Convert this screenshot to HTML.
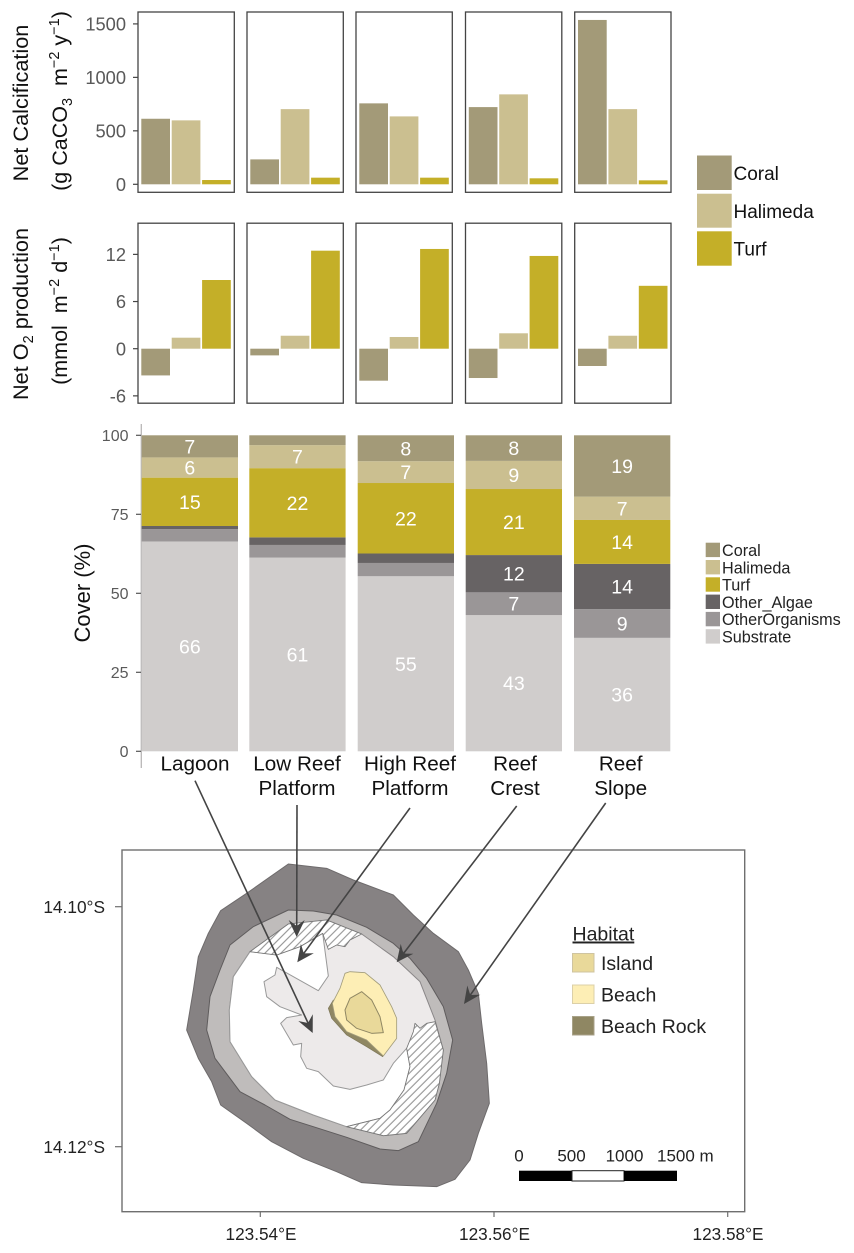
<!DOCTYPE html>
<html>
<head>
<meta charset="utf-8">
<title>Reef habitat calcification, oxygen production, cover and map</title>
<style>
html,body{margin:0;padding:0;background:#fff;}
svg{display:block;font-family:"Liberation Sans",Arial,sans-serif;}
</style>
</head>
<body>
<svg id="fig" width="854" height="1253" viewBox="0 0 854 1253" xmlns="http://www.w3.org/2000/svg">
  <defs>
    <pattern id="hatch" patternUnits="userSpaceOnUse" width="17" height="17" patternTransform="rotate(-45)">
      <rect width="17" height="17" fill="#fff"/>
      <line x1="0" y1="8" x2="17" y2="8" stroke="#8b8b8b" stroke-width="3"/>
    </pattern>
  </defs>
  <rect width="854" height="1253" fill="#fff"/>

  <g id="calc"></g>
  <g id="o2"></g>
  <g id="cover"></g>

  <text transform="translate(28,103) rotate(-90)" text-anchor="middle" font-size="21.7" fill="#111">Net Calcification</text>
  <text transform="translate(67,101) rotate(-90)" text-anchor="middle" font-size="21.5" fill="#111" xml:space="preserve">(g CaCO<tspan font-size="14.5" dy="5">3</tspan><tspan dy="-5">  m</tspan><tspan font-size="14.5" dy="-8">−2</tspan><tspan dy="8"> y</tspan><tspan font-size="14.5" dy="-8">−1</tspan><tspan dy="8">)</tspan></text>
  <text transform="translate(28,314) rotate(-90)" text-anchor="middle" font-size="21.7" fill="#111">Net O<tspan font-size="14.5" dy="5">2</tspan><tspan dy="-5"> production</tspan></text>
  <text transform="translate(67,311) rotate(-90)" text-anchor="middle" font-size="21.5" fill="#111" xml:space="preserve">(mmol  m<tspan font-size="14.5" dy="-8">−2</tspan><tspan dy="8"> d</tspan><tspan font-size="14.5" dy="-8">−1</tspan><tspan dy="8">)</tspan></text>
  <text transform="translate(90,593) rotate(-90)" text-anchor="middle" font-size="22" fill="#111">Cover (%)</text>

  <g>
    <rect x="697" y="155.5" width="34.7" height="34.5" fill="#a39a78"/>
    <rect x="697" y="193.7" width="34.7" height="34" fill="#cbbf90"/>
    <rect x="697" y="231.3" width="34.7" height="34.4" fill="#c4af28"/>
    <text x="733.5" y="180" font-size="19" fill="#111">Coral</text>
    <text x="733.5" y="218" font-size="19" fill="#111">Halimeda</text>
    <text x="733.5" y="255.5" font-size="19" fill="#111">Turf</text>
  </g>

  <g id="coverLegend"></g>

  <g>
    <rect x="122" y="850" width="622.7" height="361.7" fill="#fff" stroke="#6f6f6f" stroke-width="1.4"/>
    <g stroke="#6f6f6f" stroke-width="1.2">
      <line x1="115" y1="906.7" x2="122" y2="906.7"/>
      <line x1="115" y1="1146.7" x2="122" y2="1146.7"/>
      <line x1="260.3" y1="1211.7" x2="260.3" y2="1217"/>
      <line x1="494" y1="1211.7" x2="494" y2="1217"/>
      <line x1="727.7" y1="1211.7" x2="727.7" y2="1217"/>
    </g>
    <text x="105" y="913" text-anchor="end" font-size="17.3" fill="#222">14.10°S</text>
    <text x="105" y="1153" text-anchor="end" font-size="17.3" fill="#222">14.12°S</text>
    <text x="261" y="1240" text-anchor="middle" font-size="17.2" fill="#222">123.54°E</text>
    <text x="494.5" y="1240" text-anchor="middle" font-size="17.2" fill="#222">123.56°E</text>
    <text x="728" y="1240" text-anchor="middle" font-size="17.2" fill="#222">123.58°E</text>

    <g transform="translate(180,850) scale(0.33333)" stroke-linejoin="round">
      <polygon fill="#868283" stroke="#6e6b6c" stroke-width="3" points="325,42 440,55 520,90 640,135 700,195 760,250 835,305 865,360 895,430 905,520 920,640 928,760 895,850 870,930 825,988 770,1010 640,1005 545,998 470,965 370,925 275,875 200,820 122,765 95,695 55,625 20,540 40,420 55,320 85,250 122,182 200,130"/>
      <polygon fill="#bfbcbb" stroke="#5f5c5d" stroke-width="3" points="325,180 400,183 470,195 560,232 640,280 690,325 740,385 790,470 818,570 800,670 770,760 715,875 655,902 600,897 500,862 400,830 330,808 255,765 180,725 105,625 80,540 90,440 120,360 150,285 220,230"/>
      <polygon fill="#edeaea" stroke="#8a8788" stroke-width="3" points="325,222 440,210 545,252 640,320 720,395 765,510 790,600 778,700 765,750 680,850 610,857 500,830 400,795 285,750 215,680 150,575 148,480 160,380 210,305"/>
      <polygon fill="#fff" stroke="#999" stroke-width="3" points="210,305 290,315 360,290 428,250 445,378 415,422 290,352 285,375 252,395 260,440 300,470 365,495 320,503 302,520 340,585 365,580 362,620 380,655 415,665 460,708 510,718 560,705 610,690 640,640 680,595 690,650 672,720 630,780 600,805 500,830 400,795 285,750 215,680 150,575 148,480 160,380"/>
      <polygon fill="url(#hatch)" stroke="#777" stroke-width="2.5" points="210,305 290,315 360,290 428,250 445,298 470,285 495,290 510,270 545,252 440,210 325,222"/>
      <polygon fill="url(#hatch)" stroke="#777" stroke-width="2.5" points="765,515 740,520 720,535 705,520 700,545 680,595 690,650 672,720 630,780 600,805 500,830 610,857 680,850 765,750 778,700 790,600"/>
      <polygon fill="#8f8763" stroke="#7d7758" stroke-width="2" points="460,450 445,475 455,505 500,555 560,590 608,620 620,600 500,470"/>
      <polygon fill="#fdeeb5" stroke="#a39d7c" stroke-width="2.5" points="495,370 510,365 555,368 600,405 635,470 650,505 650,565 610,618 560,570 500,545 465,500 457,460 480,415"/>
      <polygon fill="#e9d99a" stroke="#8f8763" stroke-width="3" points="495,480 510,445 545,425 575,450 600,500 610,548 575,550 530,535 500,510"/>
    </g>
    <g id="arrows"></g>

    <g>
      <text x="572.5" y="940.5" font-size="19.5" fill="#222" text-decoration="underline">Habitat</text>
      <rect x="572.5" y="953.5" width="21.5" height="18.5" fill="#e9d99a" stroke="#cfc4a0"/>
      <rect x="572.5" y="985" width="21.5" height="18.5" fill="#fdeeb5" stroke="#dcd0a8"/>
      <rect x="572.5" y="1016.5" width="21.5" height="18.5" fill="#8f8763" stroke="#a8a288"/>
      <text x="601" y="970" font-size="19.5" fill="#222">Island</text>
      <text x="601" y="1001.5" font-size="19.5" fill="#222">Beach</text>
      <text x="601" y="1033" font-size="19.5" fill="#222">Beach Rock</text>
    </g>

    <g>
      <rect x="519" y="1170.7" width="53" height="10.3" fill="#000"/>
      <rect x="572" y="1170.7" width="52" height="10.3" fill="#fff" stroke="#222"/>
      <rect x="624" y="1170.7" width="53" height="10.3" fill="#000"/>
      <text x="519" y="1161.5" text-anchor="middle" font-size="17" fill="#222">0</text>
      <text x="571.5" y="1161.5" text-anchor="middle" font-size="17" fill="#222">500</text>
      <text x="624.5" y="1161.5" text-anchor="middle" font-size="17" fill="#222">1000</text>
      <text x="657" y="1161.5" font-size="17" fill="#222">1500 m</text>
    </g>
  </g>
</svg>
<script>
var groups = ["Coral", "Halimeda", "Turf"];
var calcCoral = [613, 233, 757, 722, 1537];
var calcHalimeda = [598, 703, 635, 841, 703];
var calcTurf = [40, 62, 62, 56, 37];
var calcTicks = [0, 500, 1000, 1500];
var o2Coral = [-3.4, -0.85, -4.07, -3.73, -2.2];
var o2Halimeda = [1.4, 1.65, 1.49, 1.96, 1.65];
var o2Turf = [8.74, 12.47, 12.69, 11.8, 8.0];
var o2Ticks = [-6, 0, 6, 12];
var habitatsLine1 = ["Lagoon", "Low Reef", "High Reef", "Reef", "Reef"];
var habitatsLine2 = ["", "Platform", "Platform", "Crest", "Slope"];
var coverSubstrate = [66.4, 61.3, 55.4, 43.1, 35.9];
var coverOrganisms = [3.9, 4.0, 4.2, 7.2, 9.1];
var coverAlgae = [1.0, 2.4, 3.0, 11.8, 14.3];
var coverTurf = [15.3, 21.9, 22.3, 20.9, 13.9];
var coverHalimeda = [6.4, 7.3, 6.9, 8.9, 7.4];
var coverCoral = [7.0, 3.1, 8.2, 8.1, 19.4];
var coverTicks = [0, 25, 50, 75, 100];
var coverLegendLabels = ["Coral", "Halimeda", "Turf", "Other_Algae", "OtherOrganisms", "Substrate"];

var NS = "http://www.w3.org/2000/svg";
var COLORS = {Coral:"#a39a78", Halimeda:"#cbbf90", Turf:"#c4af28", Other_Algae:"#676364", OtherOrganisms:"#9a9697", Substrate:"#d0cdcc"};
function mk(parent, tag, attrs, txt){
  var e = document.createElementNS(NS, tag);
  for (var k in attrs) e.setAttribute(k, attrs[k]);
  if (txt !== undefined) e.textContent = txt;
  parent.appendChild(e);
  return e;
}
var panelLefts = [138, 247, 356, 465.5, 574.7];
var panelW = 96.3;

function smallMultiples(root, key, top, bottom, yScale, ticks, series){
  ticks.forEach(function(t){
    var y = yScale(t);
    var tk = mk(root, "line", {x1:133, x2:138, y1:y, y2:y, stroke:"#444", "stroke-width":1.2});
    
    
    var lb = mk(root, "text", {x:126, y:y+6.6, "text-anchor":"end", "font-size":18.3, fill:"#595959"}, String(t));
    
    
  });
  panelLefts.forEach(function(px, p){
    var frame = mk(root, "rect", {x:px, y:top, width:panelW, height:bottom-top, fill:"#fff", stroke:"#444", "stroke-width":1.3});
    
    
    series.forEach(function(vals, s){
      var v = vals[p], y0 = yScale(0), y1 = yScale(v);
      var bar = mk(root, "rect", {
        x: px + 3.3 + s*30.4, width: 28.7,
        y: Math.min(y0, y1), height: Math.abs(y1-y0),
        fill: COLORS[groups[s]]
      });
      
      
    });
  });
}
function calcY(v){ return 184.3 - v * 0.10693; }
function o2Y(v){ return 348.7 - v * 7.86; }
smallMultiples(document.getElementById("calc"), "calc", 12, 192.3, calcY, calcTicks, [calcCoral, calcHalimeda, calcTurf]);
smallMultiples(document.getElementById("o2"), "o2", 223.2, 403.2, o2Y, o2Ticks, [o2Coral, o2Halimeda, o2Turf]);

function coverY(v){ return 751.3 - v * 3.16; }
var coverRoot = document.getElementById("cover");
var coverLefts = [141.7, 249.3, 357.7, 465.7, 574];
var coverW = 96.3;
var coverAxis = mk(coverRoot, "line", {x1:141.3, x2:141.3, y1:424, y2:768, stroke:"#b8b6b6", "stroke-width":1.3});


coverTicks.forEach(function(t){
  var y = coverY(t);
  var tk = mk(coverRoot, "line", {x1:136, x2:141, y1:y, y2:y, stroke:"#555", "stroke-width":1.2});
  
  
  var lb = mk(coverRoot, "text", {x:128.5, y:y+5.8, "text-anchor":"end", "font-size":16, fill:"#5a5a5a"}, String(t));
  
  
});
var stackOrder = [
  ["Substrate", coverSubstrate],
  ["OtherOrganisms", coverOrganisms],
  ["Other_Algae", coverAlgae],
  ["Turf", coverTurf],
  ["Halimeda", coverHalimeda],
  ["Coral", coverCoral]
];
coverLefts.forEach(function(x, i){
  var base = 0;
  stackOrder.forEach(function(st){
    var v = st[1][i];
    var seg = mk(coverRoot, "rect", {x:x, width:coverW, y:coverY(base+v), height:v*3.16, fill:COLORS[st[0]]});
    
    
    if (v >= 5.5) {
      var lb = mk(coverRoot, "text", {x:x+coverW/2, y:coverY(base+v/2)+7, "text-anchor":"middle", "font-size":19.5, fill:"#fff"}, String(Math.round(v)));
      
      
    }
    base += v;
  });
});
var catCenters = [195, 297, 410, 515, 620.7];
habitatsLine1.forEach(function(t, i){
  var a = mk(coverRoot, "text", {x:catCenters[i], y:770.7, "text-anchor":"middle", "font-size":20.7, fill:"#111"}, t);
  
  
  if (habitatsLine2[i]) {
    var b = mk(coverRoot, "text", {x:catCenters[i], y:795, "text-anchor":"middle", "font-size":20.7, fill:"#111"}, habitatsLine2[i]);
    
    
  }
});

var legRoot = document.getElementById("coverLegend");
coverLegendLabels.forEach(function(t, i){
  var y = 542.7 + i*17.3;
  var sw = mk(legRoot, "rect", {x:705.7, y:y, width:14.3, height:14.4, fill:COLORS[t]});
  
  
  var lb = mk(legRoot, "text", {x:722, y:y+13.3, "font-size":16.2, fill:"#222"}, t);
  
  
});

var arrowRoot = document.getElementById("arrows");
var arrowPaths = [
  [195, 780.7, 312.7, 1033],
  [297, 805, 296.7, 937],
  [410, 808, 297.3, 962.3],
  [516.7, 806, 396.7, 962.3],
  [605.7, 803, 464, 1004]
];
arrowPaths.forEach(function(a){
  var dx = a[2]-a[0], dy = a[3]-a[1], L = Math.sqrt(dx*dx+dy*dy), ux = dx/L, uy = dy/L, nx = -uy, ny = ux;
  var ln = mk(arrowRoot, "line", {x1:a[0], y1:a[1], x2:a[2]-ux*8, y2:a[3]-uy*8, stroke:"#444", "stroke-width":1.6});
  
  
  var pts = [
    [a[2], a[3]],
    [a[2]-ux*17+nx*8, a[3]-uy*17+ny*8],
    [a[2]-ux*11, a[3]-uy*11],
    [a[2]-ux*17-nx*8, a[3]-uy*17-ny*8]
  ].map(function(p){ return p[0].toFixed(1)+","+p[1].toFixed(1); }).join(" ");
  var hd = mk(arrowRoot, "polygon", {points:pts, fill:"#444"});
  
  
});
</script>
</body>
</html>
